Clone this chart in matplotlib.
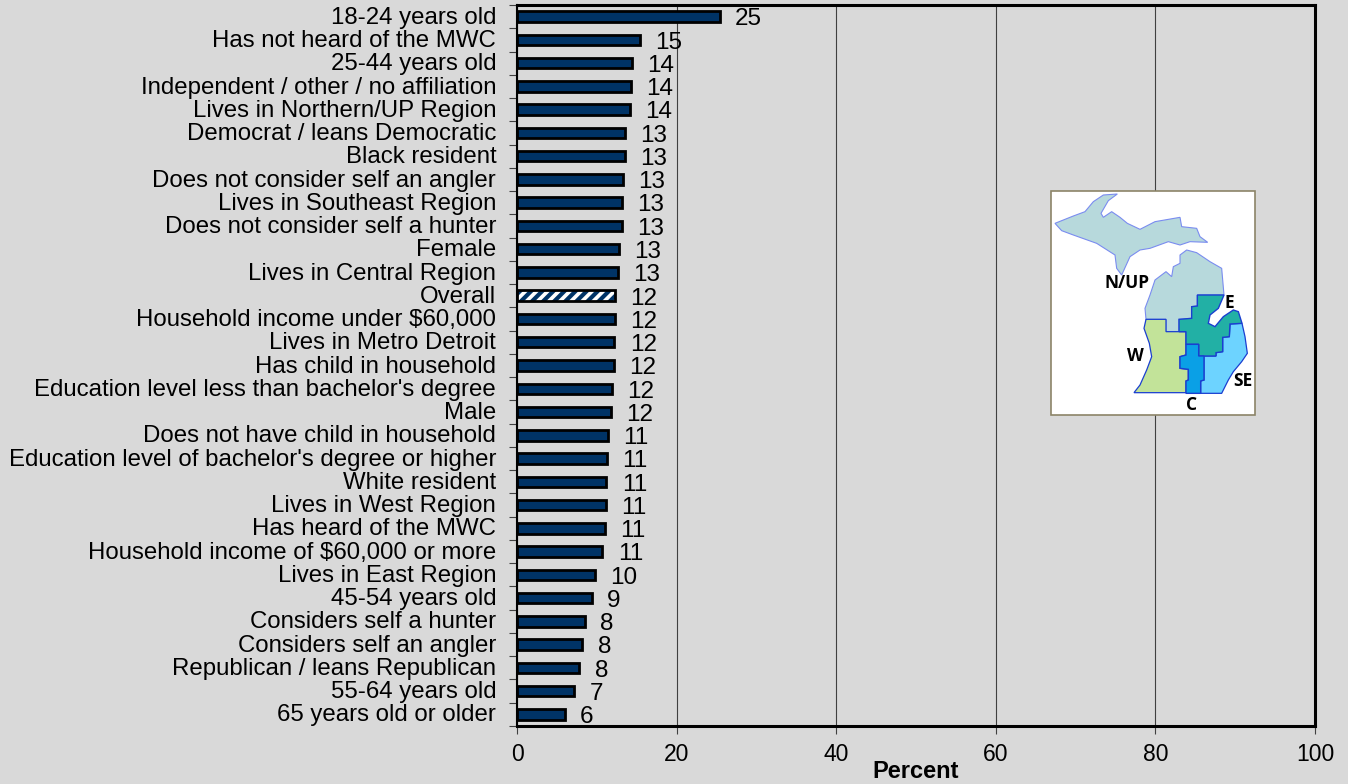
import matplotlib
matplotlib.use('Agg')
import matplotlib.pyplot as plt
from matplotlib.patches import Polygon, Rectangle

plt.rcParams['font.family'] = ['Liberation Sans', 'DejaVu Sans']
plt.rcParams['hatch.linewidth'] = 3

categories = [
    "18-24 years old", "Has not heard of the MWC", "25-44 years old",
    "Independent / other / no affiliation", "Lives in Northern/UP Region",
    "Democrat / leans Democratic", "Black resident",
    "Does not consider self an angler", "Lives in Southeast Region",
    "Does not consider self a hunter", "Female", "Lives in Central Region",
    "Overall", "Household income under $60,000", "Lives in Metro Detroit",
    "Has child in household", "Education level less than bachelor's degree",
    "Male", "Does not have child in household",
    "Education level of bachelor's degree or higher", "White resident",
    "Lives in West Region", "Has heard of the MWC",
    "Household income of $60,000 or more", "Lives in East Region",
    "45-54 years old", "Considers self a hunter", "Considers self an angler",
    "Republican / leans Republican", "55-64 years old", "65 years old or older",
]
values = [25.4, 15.4, 14.4, 14.3, 14.2, 13.5, 13.5, 13.3, 13.1, 13.1, 12.8, 12.7,
          12.3, 12.3, 12.2, 12.1, 11.9, 11.8, 11.4, 11.3, 11.2, 11.1, 11.0, 10.7,
          9.8, 9.4, 8.5, 8.2, 7.8, 7.2, 6.0]
labels = [25, 15, 14, 14, 14, 13, 13, 13, 13, 13, 13, 13, 12, 12, 12, 12, 12, 12,
          11, 11, 11, 11, 11, 11, 10, 9, 8, 8, 8, 7, 6]
x_ticks = [0, 20, 40, 60, 80, 100]

# map regions, traced in picture pixels of the inset
upper_pen = [(45,130),(100,108),(135,95),(160,65),(190,45),(232,42),(205,62),(183,100),(190,112),
             (215,95),(240,112),(262,130),(300,148),(345,125),(420,112),(425,140),(470,145),(480,170),
             (503,187),(450,185),(420,195),(385,185),(330,205),(300,210),(270,230),(245,285),(230,265),
             (225,225),(170,190),(100,165),(65,152)]
north = [(318,418),(315,385),(330,345),(345,300),(378,275),(395,290),(400,260),(420,250),(420,225),
         (440,210),(470,218),(510,245),(545,265),(552,345),(472,345),(472,378),(455,380),(455,415),
         (417,418),(417,455),(378,455),(378,418)]
east = [(472,345),(552,345),(535,385),(510,405),(505,430),(525,440),(550,410),(580,390),(595,395),
        (606,430),(570,432),(568,470),(548,472),(548,515),(528,518),(528,528),(476,528),(476,493),
        (438,493),(438,455),(417,455),(417,418),(455,415),(455,380),(472,378)]
west = [(318,418),(378,418),(378,455),(438,455),(438,525),(420,530),(420,565),(445,568),(445,600),
        (438,603),(438,638),(282,638),(300,615),(320,570),(335,530),(328,490),(312,445)]
central = [(438,493),(476,493),(476,528),(492,528),(492,600),(482,603),(482,640),(438,640),(438,603),
           (445,600),(445,568),(420,565),(420,530),(438,525)]
southeast = [(492,528),(528,528),(528,518),(548,515),(548,472),(568,470),(570,432),(606,430),(615,470),
             (622,520),(605,545),(580,575),(565,600),(545,640),(482,640),(482,603),(492,600)]

W, H = 1348, 784
fig = plt.figure(figsize=(W / 100, H / 100), dpi=100, facecolor='#d9d9d9')
ax = fig.add_axes([517 / W, 1 - 726 / H, (1315 - 517) / W, (726 - 5) / H], facecolor='#d9d9d9')

y = list(range(len(categories)))
colors = ['white' if c == 'Overall' else '#003366' for c in categories]
bars = ax.barh(y, values, height=0.45, color=colors, edgecolor='black', linewidth=2, zorder=3)
overall = categories.index('Overall')
bars[overall].set_edgecolor('#003366')
bars[overall].set_hatch('///')
bars[overall].set_linewidth(0)
ax.barh(overall, values[overall], height=0.45, fill=False, edgecolor='black', linewidth=2, zorder=4)

for i, v in enumerate(values):
    ax.annotate(str(labels[i]), (v, i), xytext=(11, -2), textcoords='offset points',
                ha='left', va='center', fontsize=17.5, color='black', zorder=5)

ax.set_xlim(0, 100)
ax.set_ylim(len(categories) - 0.5, -0.5)
ax.set_xticks(x_ticks)
ax.set_xticklabels([str(t) for t in x_ticks], fontsize=16.5)
ax.tick_params(axis='x', length=5.5, width=0.8, color='#404040', pad=7)

# ticks sit between the categories, labels stay centred on the bars
ax.set_yticks([i - 0.5 for i in range(len(categories) + 1)])
ax.set_yticklabels([])
ax.tick_params(axis='y', length=6, width=0.8, color='#404040')
ax.set_yticks(y, minor=True)
ax.set_yticklabels(categories, minor=True, fontsize=17.3)
ax.tick_params(axis='y', which='minor', length=0, pad=15)
for t in ax.get_yticklabels(minor=True):
    t.set_transform(t.get_transform() + matplotlib.transforms.ScaledTranslation(0, 1 / 72, fig.dpi_scale_trans))

ax.xaxis.grid(True, color='#404040', linewidth=0.8, zorder=1)
ax.set_axisbelow(True)
for side in ['top', 'right', 'bottom']:
    ax.spines[side].set_linewidth(2.2)
ax.spines['left'].set_linewidth(1.5)

fig.text(916 / W, 1 - 772 / H, 'Percent', fontsize=17, fontweight='bold', ha='center', va='center')

# inset map of the regions
left, top, wid, hei = 1040, 180, 230, 245
inset = fig.add_axes([left / W, 1 - (top + hei) / H, wid / W, hei / H], zorder=10)
inset.set_xlim(0, 690)
inset.set_ylim(735, 0)
inset.axis('off')
inset.add_patch(Rectangle((32, 32), 613, 673, facecolor='white', edgecolor='#8c8468', linewidth=1.2))
for pts, col, ec, lw in [(upper_pen, '#b7d9dc', '#7a8cf0', 0.8), (north, '#b7d9dc', '#7a8cf0', 0.8),
                         (west, '#c2e399', '#1a3fd0', 0.9), (southeast, '#6dd3ff', '#1a3fd0', 0.9),
                         (east, '#22b0a5', '#1a3fd0', 1.0), (central, '#0aa0e6', '#1a3fd0', 1.0)]:
    inset.add_patch(Polygon(pts, closed=True, facecolor=col, edgecolor=ec, linewidth=lw))
for txt, tx, ty in [('N/UP', 262, 310), ('E', 568, 368), ('W', 285, 528), ('SE', 610, 602), ('C', 456, 675)]:
    inset.text(tx, ty, txt, fontsize=12.5, fontweight='bold', family=['Open Sans', 'DejaVu Sans'],
               ha='center', va='center', color='black')

fig.savefig('out.png', dpi=100, facecolor=fig.get_facecolor())
